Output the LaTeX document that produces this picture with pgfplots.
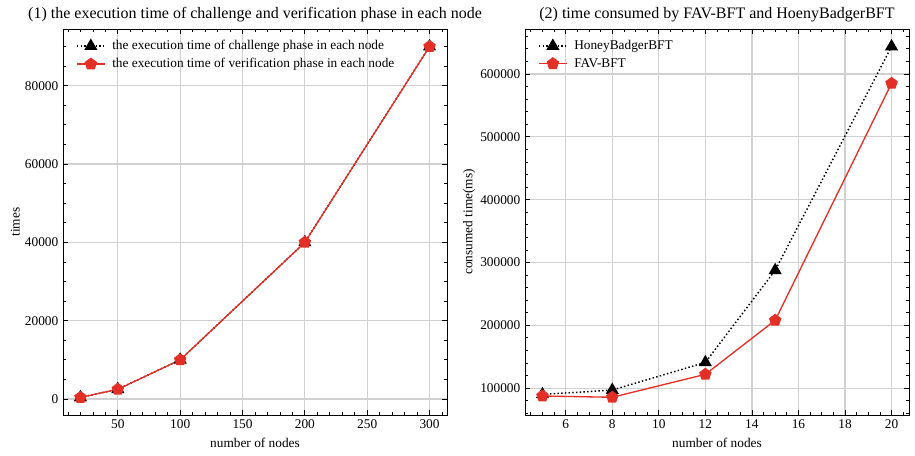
\documentclass[border=0pt]{standalone}
\usepackage{pgfplots}
\pgfplotsset{compat=1.18}
\usetikzlibrary{plotmarks}
\usepackage{fontspec}
\setmainfont{Liberation Serif}
\definecolor{myred}{RGB}{228,47,38}
\definecolor{gridgray}{RGB}{208,208,208}
\pgfplotsset{sty/.style={
  scale only axis, width=288pt, height=289.5pt,
  tick align=inside,
  major tick length=3.8pt, minor tick length=2.2pt,
  every tick/.style={black, line width=0.6pt},
  axis line style={line width=0.7pt},
  grid=major, major grid style={gridgray, line width=0.9pt},
  scaled ticks=false,
  xticklabel style={/pgf/number format/fixed, /pgf/number format/set thousands separator={}, /pgf/number format/assume math mode=true},
  yticklabel style={/pgf/number format/fixed, /pgf/number format/set thousands separator={}, /pgf/number format/assume math mode=true},
  tick label style={font=\fontsize{10}{12}\selectfont},
  label style={font=\fontsize{10}{12}\selectfont},
  ylabel shift=-3pt,
  title style={font=\fontsize{12}{14}\selectfont, yshift=-4pt},
  legend style={draw=none, fill=none, at={(0.03,0.985)}, anchor=north west, font=\fontsize{10}{12}\selectfont, row sep=1pt, inner xsep=1pt,
    nodes={inner xsep=5pt}},
  legend cell align=left,
  legend image code/.code={\draw[mark repeat=2,mark phase=2] plot coordinates {(0pt,0pt)(10.5pt,0pt)(21pt,0pt)};},
}}
\begin{document}
\begin{tikzpicture}
\useasboundingbox (-47.25pt,-30.75pt) rectangle (639pt,311.25pt);
\begin{axis}[sty,
  title={(1) the execution time of challenge and verification phase in each node},
  xlabel={number of nodes}, ylabel={times},
  xmin=6, xmax=314, ymin=-4080, ymax=94480,
  xtick={50,100,...,300}, ytick={0,20000,...,80000},
  minor xtick={10,20,...,310}, minor ytick={5000,10000,...,90000},
]
\addplot[black, line width=1.1pt, dash pattern=on 1.1pt off 1.7pt, mark=triangle*, mark size=4.6pt, mark options={solid}]
  coordinates {(20,400)(50,2500)(100,10000)(200,40000)(300,90000)};
\addlegendentry{the execution time of challenge phase in each node}
\addplot[myred, line width=1pt, mark=pentagon*, mark size=4.3pt, mark options={solid}]
  coordinates {(20,400)(50,2500)(100,10000)(200,40000)(300,90000)};
\addlegendentry{the execution time of verification phase in each node}
\end{axis}
\begin{axis}[sty, at={(346.5pt,0pt)},
  title={(2) time consumed by FAV-BFT and HoenyBadgerBFT},
  xlabel={number of nodes}, ylabel={consumed time(ms)},
  xmin=4.25, xmax=20.75, ymin=57300, ymax=671600,
  xtick={6,8,...,20}, ytick={100000,200000,...,600000},
  minor xtick={4.5,5,...,20.5}, minor ytick={60000,80000,...,660000},
]
\addplot[black, line width=1.1pt, dash pattern=on 1.1pt off 1.7pt, mark=triangle*, mark size=4.6pt, mark options={solid}]
  coordinates {(5,90000)(8,97000)(12,141000)(15,287500)(20,643700)};
\addlegendentry{HoneyBadgerBFT}
\addplot[myred, line width=1pt, mark=pentagon*, mark size=4.3pt, mark options={solid}]
  coordinates {(5,87500)(8,85500)(12,122000)(15,208000)(20,585000)};
\addlegendentry{FAV-BFT}
\end{axis}
\end{tikzpicture}
\end{document}
